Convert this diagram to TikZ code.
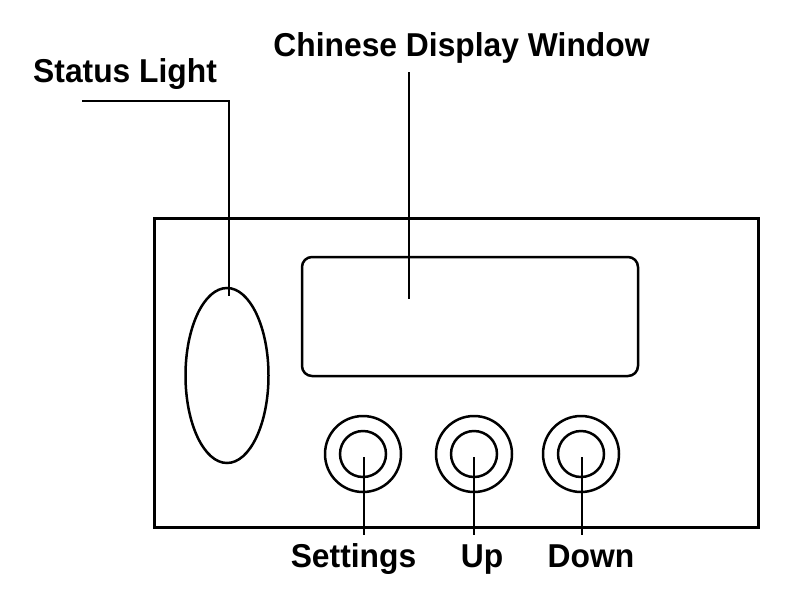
\documentclass[tikz,border=0pt]{standalone}
\usepackage{fontspec}
\setmainfont{Liberation Sans}
\usetikzlibrary{shapes.geometric,calc}
\begin{document}
\begin{tikzpicture}[x=1pt,y=-1pt,
  lbl/.style={font=\fontsize{31.8}{32}\selectfont\bfseries,inner sep=0pt,anchor=base,yscale=1.04},
  part/.style={draw,line width=2.5pt,inner sep=0pt},
  lead/.style={line width=2.8pt},
  outerbtn/.style={part,circle,minimum size=76pt},
  innerbtn/.style={part,circle,minimum size=46pt}]
\useasboundingbox (0,0) rectangle (800,600);
% housing
\draw[line width=3pt] (154,218) rectangle (758,527);
% status light
\node[part,ellipse,minimum width=83pt,minimum height=175pt] (light) at (227,375.5) {};
% display window
\node[part,rectangle,rounded corners=10pt,minimum width=336pt,minimum height=119pt] (display) at (470,316.5) {};
% buttons
\node[outerbtn] (b1o) at (363,454) {};
\node[innerbtn] (b1) at (363,454) {};
\node[outerbtn] (b2o) at (474,454) {};
\node[innerbtn] (b2) at (474,454) {};
\node[outerbtn] (b3o) at (581,454) {};
\node[innerbtn] (b3) at (581,454) {};
% labels
\node[lbl,anchor=base west] (tstatus) at (33,82) {Status Light};
\node[lbl] (tdisp) at (461.5,56) {Chinese Display Window};
\node[lbl] (tset) at (353.5,567) {Settings};
\node[lbl] (tup) at (482,567) {Up};
\node[lbl] (tdown) at (591,567) {Down};
% leader coordinates
\coordinate (sl0) at (82,101);
\coordinate (sl1) at (229,101);
\coordinate (slend) at ($(light.north)+(2,9)$);
\coordinate (dl0) at (409,72);
\coordinate (dl1) at (409,299);
\coordinate (bl) at (0,535);
\coordinate (b1t) at ($(b1.center)+(1,3)$);
\coordinate (b2t) at ($(b2.center)+(0,3)$);
\coordinate (b3t) at ($(b3.center)+(1,3)$);
% leaders
\draw[lead] (sl0) -- (sl1) -- (slend);
\draw[lead] (dl0) -- (dl1);
\draw[lead] (b1t) -- (b1t |- bl);
\draw[lead] (b2t) -- (b2t |- bl);
\draw[lead] (b3t) -- (b3t |- bl);
\end{tikzpicture}
\end{document}
